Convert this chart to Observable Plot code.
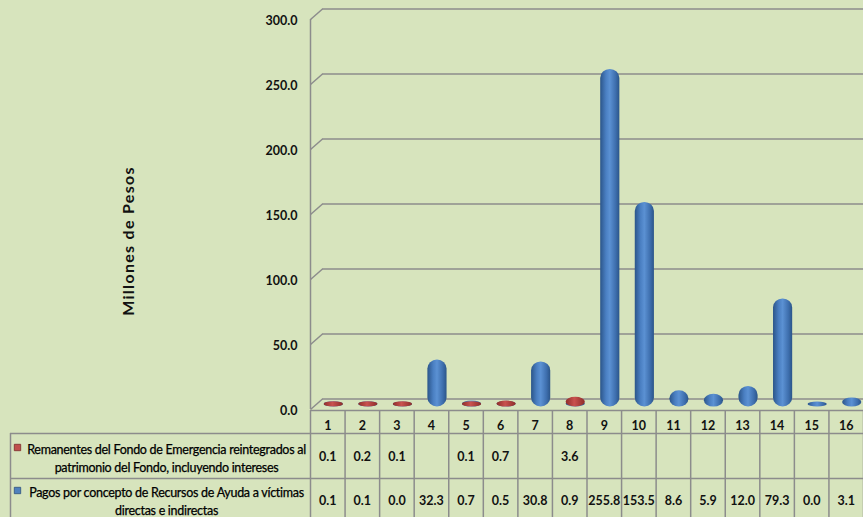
<!DOCTYPE html>
<html>
<head>
<meta charset="utf-8">
<script src="https://cdn.jsdelivr.net/npm/d3@7"></script>
<script src="https://cdn.jsdelivr.net/npm/@observablehq/plot@0.6"></script>
<style>
  html, body { margin: 0; padding: 0; background: #d7e4bd; overflow: hidden; }
  #chart svg { display: block; }
</style>
</head>
<body>
<div id="chart"></div>
<script>
// ---- data ----
const columns = ["1","2","3","4","5","6","7","8","9","10","11","12","13","14","15","16"];
const remanentes = [0.1, 0.2, 0.1, null, 0.1, 0.7, null, 3.6, null, null, null, null, null, null, null, null];
const pagos = [0.1, 0.1, 0.0, 32.3, 0.7, 0.5, 30.8, 0.9, 255.8, 153.5, 8.6, 5.9, 12.0, 79.3, 0.0, 3.1];
const yTicks = [0, 50, 100, 150, 200, 250, 300];
const seriesNames = [
  "Remanentes del Fondo de Emergencia reintegrados al\npatrimonio del Fondo, incluyendo intereses",
  "Pagos por concepto de Recursos de Ayuda a víctimas\ndirectas e indirectas"
];
const yLabel = "Millones de Pesos";

// ---- layout ----
const W = 863, H = 517;
const wallPx = 310;                 // front wall x in pixels
const colW = (W - wallPx) / 16;     // table column width
const xMin = -(wallPx - 10) / colW; // legend column left edge (data units)
const pxPerUnit = (409 - 19) / 300;
const depthX = 12, depthY = 10.5;   // 3D depth offset in px
const gridColor = "#8c8c8c";

const bars = pagos.map((v, i) => ({i, value: v}));
const reds = remanentes.map((v, i) => ({i, value: v})).filter(d => d.value != null);
const fmt = v => v == null ? "" : v.toFixed(1);

const rowHeader = columns.map((c, i) => ({i, text: c}));
const rowRed = remanentes.map((v, i) => ({i, text: fmt(v)}));
const rowBlue = pagos.map((v, i) => ({i, text: fmt(v)}));

const cyl = {x1: d => d.i, x2: d => d.i + 1, y1: 0, y2: "value",
  insetLeft: 7.7, insetRight: 7.7, insetTop: -2.5, insetBottom: -2.5, rx: 9.5, ry: 9, dx: 6, dy: -5};

const chart = Plot.plot({
  width: W, height: H,
  marginLeft: 0, marginRight: 0, marginTop: 0, marginBottom: 0,
  x: {domain: [xMin, 16], range: [10, W], axis: null},
  y: {domain: [0, 300], range: [409, 19], axis: null},
  style: {background: "transparent", fontFamily: "Lato, sans-serif", color: "#111"},
  marks: [
    // back wall gridlines
    Plot.ruleY(yTicks, {x1: 0, x2: 16, dx: depthX, dy: -depthY, stroke: gridColor, strokeWidth: 1.5}),
    // diagonal connectors from front wall to back wall
    Plot.link(yTicks, {x1: 0, y1: d => d, x2: depthX / colW, y2: d => d + depthY / pxPerUnit, stroke: gridColor, strokeWidth: 1.5}),
    // left wall edge
    Plot.ruleX([0], {y1: 0, y2: 300, stroke: gridColor, strokeWidth: 1.5}),
    // y tick labels
    Plot.text(yTicks, {x: 0, y: d => d, text: d => d.toFixed(1), textAnchor: "end", dx: -13, dy: 1, fontSize: 12.5, fontWeight: "bold"}),
    // y axis label
    Plot.text([yLabel], {frameAnchor: "left", textAnchor: "middle", dx: 128, dy: -18, rotate: -90, fontSize: 16, fontWeight: "bold", ariaDescription: "ylabel"}),
    // cylinders
    Plot.rect(bars, {...cyl, fill: "url(#gBlue)"}),
    Plot.rect(reds, {...cyl, fill: "url(#gRed)"}),
    // table grid
    Plot.ruleY([0], {x1: 0, x2: 16, dy: 1, stroke: gridColor, strokeWidth: 1.5}),
    Plot.ruleY([0], {x1: xMin, x2: 16, dy: 24, stroke: gridColor, strokeWidth: 1.5}),
    Plot.ruleY([0], {x1: xMin, x2: 16, dy: 69, stroke: gridColor, strokeWidth: 1.5}),
    Plot.ruleX(d3.range(0, 17), {insetTop: 410, stroke: gridColor, strokeWidth: 1.5}),
    Plot.ruleX([xMin], {insetTop: 433, stroke: gridColor, strokeWidth: 1.5}),
    // table values
    Plot.text(rowHeader, {x: d => d.i + 0.5, y: 0, dy: 16, text: "text", fontSize: 12.5, fontWeight: "bold"}),
    Plot.text(rowRed, {x: d => d.i + 0.5, y: 0, dy: 47, text: "text", fontSize: 12.5, fontWeight: "bold"}),
    Plot.text(rowBlue, {x: d => d.i + 0.5, y: 0, dy: 91, text: "text", fontSize: 12.5, fontWeight: "bold"}),
    // legend column
    Plot.text([seriesNames[0]], {x: xMin / 2, y: 0, dx: 6, dy: 48, text: d => d, fontSize: 12.5, lineHeight: 1.45, fill: "#000", ariaDescription: "legendtext"}),
    Plot.text([seriesNames[1]], {x: xMin / 2, y: 0, dx: 6, dy: 90.5, text: d => d, fontSize: 12.5, lineHeight: 1.45, fill: "#000", ariaDescription: "legendtext"}),
    Plot.dot([0], {x: xMin, y: 0, dx: 7, dy: 38, symbol: "square", r: 3.6, fill: "#c0504d", stroke: "#7a2a28", strokeWidth: 0.8}),
    Plot.dot([1], {x: xMin, y: 0, dx: 7, dy: 81, symbol: "square", r: 3.6, fill: "#4f81bd", stroke: "#2c4f7c", strokeWidth: 0.8})
  ]
});

d3.select(chart).selectAll('g[aria-description="ylabel"] text').style("letter-spacing", "1.3px");
d3.select(chart).selectAll('g[aria-description="legendtext"] text').style("letter-spacing", "-0.28px").style("stroke", "#000").style("stroke-width", "0.25px");

d3.select(chart).insert("defs", ":first-child").html(`
  <linearGradient id="gBlue" x1="0" x2="1" y1="0" y2="0">
    <stop offset="0" stop-color="#2b5589"/>
    <stop offset="0.3" stop-color="#4a7fc2"/>
    <stop offset="0.5" stop-color="#5b91d3"/>
    <stop offset="0.8" stop-color="#3e6fae"/>
    <stop offset="1" stop-color="#2b5589"/>
  </linearGradient>
  <linearGradient id="gRed" x1="0" x2="1" y1="0" y2="0">
    <stop offset="0" stop-color="#8e2d2a"/>
    <stop offset="0.45" stop-color="#c9524f"/>
    <stop offset="1" stop-color="#8e2d2a"/>
  </linearGradient>
`);

document.getElementById("chart").appendChild(chart);
</script>
</body>
</html>
